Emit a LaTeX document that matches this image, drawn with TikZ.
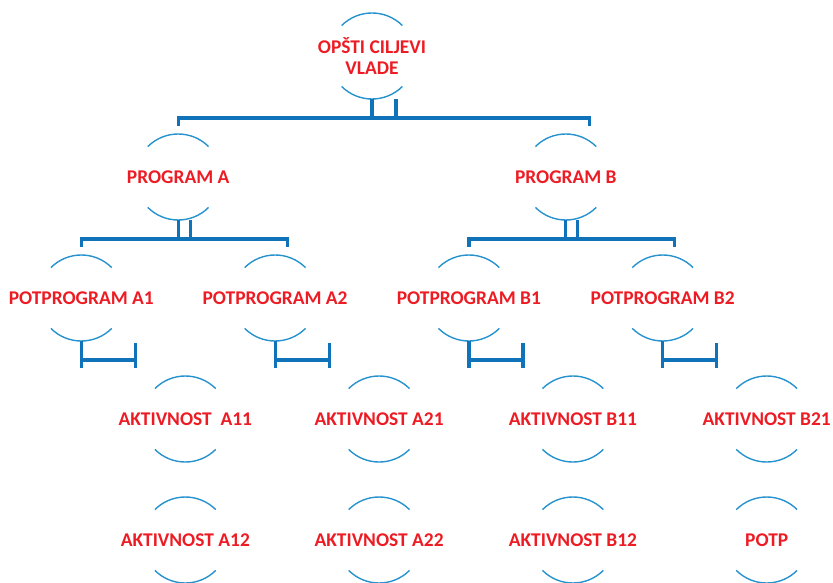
\documentclass[tikz,border=0pt]{standalone}
\usepackage{fontspec}
\setmainfont{Carlito}
\usetikzlibrary{positioning,calc}
\definecolor{linkblue}{RGB}{16,115,186}
\definecolor{rimblue}{RGB}{38,146,206}
\definecolor{textred}{RGB}{237,28,36}
\begin{document}
\begin{tikzpicture}[x=1bp,y=-1bp,on grid,
				goal/.style={text=textred,font=\bfseries\fontsize{19.5}{22}\selectfont,align=center,inner sep=0pt},
				link/.style={draw=linkblue,line width=3.2bp},
				rim/.style={draw=rimblue,line width=1.4bp}]

				\useasboundingbox (0,0) rectangle (833,583);
				\clip (0,0) rectangle (833,583);

				\node[goal] (g) at (372,56) {OPŠTI CILJEVI\\VLADE};
				\node[goal] (A) [below left=121bp and 193.8bp of g] {PROGRAM A};
				\node[goal] (B) [below right=121bp and 193.8bp of g] {PROGRAM B};
				\node[goal] (A1) [below left=121bp and 96.9bp of A] {POTPROGRAM A1};
				\node[goal] (A2) [below right=121bp and 96.9bp of A] {POTPROGRAM A2};
				\node[goal] (B1) [below left=121bp and 96.9bp of B] {POTPROGRAM B1};
				\node[goal] (B2) [below right=121bp and 96.9bp of B] {POTPROGRAM B2};
				\node[goal] (A11) [below right=121bp and 104bp of A1] {AKTIVNOST\ \ A11};
				\node[goal] (A12) [below=121bp of A11] {AKTIVNOST A12};
				\node[goal] (A21) [below right=121bp and 104bp of A2] {AKTIVNOST A21};
				\node[goal] (A22) [below=121bp of A21] {AKTIVNOST A22};
				\node[goal] (B11) [below right=121bp and 104bp of B1] {AKTIVNOST B11};
				\node[goal] (B12) [below=121bp of B11] {AKTIVNOST B12};
				\node[goal] (B21) [below right=121bp and 104bp of B2] {AKTIVNOST B21};
				\node[goal] (P) [below=121bp of B21] {POTP};

				% open circles round the labels
				\foreach \n in {g,A,B,A1,A2,B1,B2,A11,A12,A21,A22,B11,B12,B21,P} {
					\draw[rim] ($(\n.center)+(45:43bp)$) arc (45:135:43bp);
					\draw[rim] ($(\n.center)+(225:43bp)$) arc (225:315:43bp);
				}

				% brackets between levels
				\draw[link] ($(g)+(0,43)$) |- ($(B)+(24,-59)$) -- ++(0,8);
				\draw[link] ($(g)+(24,43)$) |- ($(A)+(0,-59)$) -- ++(0,8);
				\draw[link] ($(A)+(0,43)$) |- ($(A2)+(12,-59)$) -- ++(0,8);
				\draw[link] ($(A)+(12,43)$) |- ($(A1)+(0,-59)$) -- ++(0,8);
				\draw[link] ($(B)+(0,43)$) |- ($(B2)+(12,-59)$) -- ++(0,8);
				\draw[link] ($(B)+(12,43)$) |- ($(B1)+(0,-59)$) -- ++(0,8);

				\foreach \p/\c in {A1/A11,A2/A21,B1/B11,B2/B21} {
					\draw[link] ($(\p)+(0,43)$) -- ($(\p |- \c)+(0,-51)$);
					\draw[link] ($(\p |- \c)+(0,-59)$) -- ($(\p |- \c)+(54,-59)$);
					\draw[link] ($(\p)+(54,45)$) -- ($(\p |- \c)+(54,-51)$);
				}

			\end{tikzpicture}
\end{document}
